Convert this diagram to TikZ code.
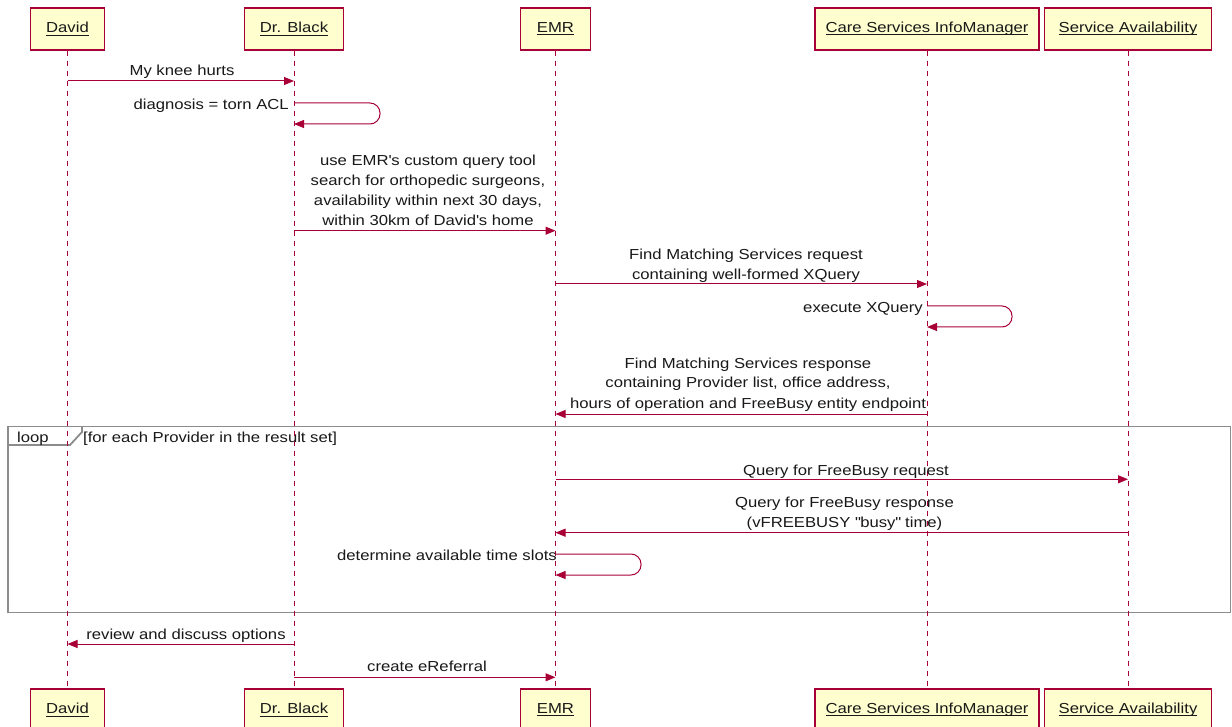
\documentclass[tikz,border=0pt]{standalone}
\usepackage{fontspec}
\setmainfont{Liberation Sans}[FakeStretch=1.15]
\usetikzlibrary{arrows.meta}
\definecolor{umlred}{HTML}{A80036}
\definecolor{umlfill}{HTML}{FEFECE}
\definecolor{framegray}{HTML}{8C8C8C}
\newcommand\ulx[1]{\setbox0\hbox{#1}\rlap{\rule[-2.6pt]{\wd0}{0.9pt}}\box0}
\begin{document}
\begin{tikzpicture}[x=1pt,y=-1pt,
  every node/.style={font=\fontsize{14.5}{20}\selectfont, text=black!90, inner sep=0pt},
  actor/.style={draw=umlred, fill=umlfill, line width=1.3pt, minimum height=42pt},
  lifeline/.style={draw=umlred, dash pattern=on 5pt off 5pt, line width=0.9pt},
  msg/.style={draw=umlred, line width=1pt, -{Triangle[length=10pt,width=8pt]}},
  selfmsg/.style={msg, rounded corners=10pt},
  lbl/.style={anchor=base, align=center},
  lblr/.style={anchor=base east},
  lbll/.style={anchor=base west},
  frame/.style={draw=framegray, line width=1.8pt}]
\clip (0,0) rectangle (1232,727);
\fill[white] (0,0) rectangle (1232,727);
% loop frame
\draw[frame] (8,426.5) rectangle (1230.5,612.5);
\draw[frame] (8,445) -- (70,445) -- (82,432) -- (82,426.5);
\node[lbll] (looplbl) at (17,442) {loop};
\node[lbll] (guard) at (83,442) {[for each Provider in the result set]};
% participants
\node[actor, minimum width=74pt] (davidT) at (67.5,29) {\ulx{David}};
\node[actor, minimum width=99pt] (blackT) at (294,29) {\ulx{Dr. Black}};
\node[actor, minimum width=70pt] (emrT) at (555.5,29) {\ulx{EMR}};
\node[actor, minimum width=224pt] (csimT) at (927,29) {\ulx{Care Services InfoManager}};
\node[actor, minimum width=167pt] (saT) at (1128,29) {\ulx{Service Availability}};
\node[actor, minimum width=74pt] (davidB) at (67.5,710) {\ulx{David}};
\node[actor, minimum width=99pt] (blackB) at (294,710) {\ulx{Dr. Black}};
\node[actor, minimum width=70pt] (emrB) at (555.5,710) {\ulx{EMR}};
\node[actor, minimum width=224pt] (csimB) at (927,710) {\ulx{Care Services InfoManager}};
\node[actor, minimum width=167pt] (saB) at (1128,710) {\ulx{Service Availability}};
% lifelines
\draw[lifeline] (davidT) -- (davidB);
\draw[lifeline] (blackT) -- (blackB);
\draw[lifeline] (emrT) -- (emrB);
\draw[lifeline] (csimT) -- (csimB);
\draw[lifeline] (saT) -- (saB);
% messages
\node[lbl] (t1) at (182,76) {My knee hurts};
\draw[msg] (davidT |- 0,81) -- (blackT |- 0,81);
\node[lblr] (t2) at (289,110) {diagnosis = torn ACL};
\draw[selfmsg] (blackT |- 0,103) -- ++(86,0) -- ++(0,21) -- (blackT |- 0,124);
\node[lbl] (t3) at (428,226) {use EMR\textquotesingle s custom query tool\\search for orthopedic surgeons,\\availability within next 30 days,\\within 30km of David\textquotesingle s home};
\draw[msg] (blackT |- 0,230.7) -- (emrT |- 0,230.7);
\node[lbl] (t4) at (746,279.3) {Find Matching Services request\\containing well-formed XQuery};
\draw[msg] (emrT |- 0,284) -- (csimT |- 0,284);
\node[lblr] (t5) at (923,312.7) {execute XQuery};
\draw[selfmsg] (csimT |- 0,306) -- ++(85,0) -- ++(0,21) -- (csimT |- 0,327);
\node[lbl] (t6) at (748,408) {Find Matching Services response\\containing Provider list, office address,\\hours of operation and FreeBusy entity endpoint};
\draw[msg] (csimT |- 0,414) -- (emrT |- 0,414);
\node[lbl] (t7) at (846,475) {Query for FreeBusy request};
\draw[msg] (emrT |- 0,479.3) -- (saT |- 0,479.3);
\node[lbl] (t8) at (844.5,527) {Query for FreeBusy response\\(vFREEBUSY \textquotedbl busy\textquotedbl{} time)};
\draw[msg] (saT |- 0,532.7) -- (emrT |- 0,532.7);
\node[lblr] (t9) at (557,560) {determine available time slots};
\draw[selfmsg] (emrT |- 0,554) -- ++(85.5,0) -- ++(0,21) -- (emrT |- 0,575);
\node[lbl] (t10) at (186,639) {review and discuss options};
\draw[msg] (blackT |- 0,644) -- (davidT |- 0,644);
\node[lbl] (t11) at (427,671.7) {create eReferral};
\draw[msg] (blackT |- 0,677.3) -- (emrT |- 0,677.3);
\end{tikzpicture}
\end{document}
